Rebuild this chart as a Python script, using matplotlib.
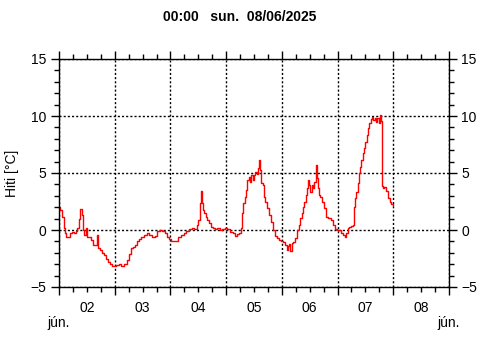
import numpy as np
import matplotlib.pyplot as plt
from matplotlib.ticker import MultipleLocator

plt.rcParams['font.family'] = ['Liberation Sans', 'DejaVu Sans']

# hours counted from 02 jún. 00:00, temperature in deg C
hours = [0, 1.1, 1.7, 2.3, 2.9, 3.4, 4.3, 5.1, 6.1, 6.9, 7.6, 8.3, 8.9, 9.4, 10.0, 10.6,
         11.1, 11.9, 12.6, 13.4, 14.3, 15.1, 16.0, 16.4, 16.8, 17.1, 18.0, 18.9, 19.7,
         20.6, 21.4, 22.3, 23.1,
         24, 25.1, 26.3, 27.4, 28.6, 29.7, 30.6, 31.4, 32.0, 33.1, 34.0, 34.8, 36.0,
         37.1, 38.3, 39.4, 40.6, 41.7, 42.9, 43.7, 44.9, 46.0, 46.9,
         48, 48.7, 49.8, 50.9, 52.0, 53.1, 54.3, 55.4, 56.6, 57.7, 58.9, 59.7, 60.3,
         60.9, 61.3, 61.7, 62.3, 62.9, 63.4, 64.0, 64.9, 65.7, 66.6, 67.4, 68.6, 69.7, 70.9,
         72, 73.1, 74.3, 75.4, 76.3, 77.1, 78.0, 78.6, 79.1, 79.7, 80.3, 80.9, 81.4, 82.0,
         82.6, 83.1, 83.7, 84.3, 84.9, 85.4, 86.0, 86.4, 86.9, 87.4, 88.0, 88.6, 89.1,
         90.0, 90.9, 91.7, 92.6, 93.4, 94.3, 95.1,
         96, 96.9, 97.7, 98.3, 98.9, 99.4, 100.0, 100.6, 101.4, 102.3, 103.1, 103.7,
         104.3, 104.9, 105.4, 106.0, 106.6, 107.1, 107.6, 108.0, 108.6, 109.1, 109.7,
         110.3, 110.9, 111.3, 111.7, 112.3, 112.9, 113.7, 114.6, 115.4, 116.6, 117.4,
         118.3, 119.1,
         120, 121.1, 122.0, 122.9, 123.4, 124.0, 124.6, 125.4, 126.3, 126.9, 127.3,
         127.7, 128.3, 128.9, 129.4, 130.0, 130.6, 131.1, 131.7, 132.3, 132.9, 133.4,
         134.0, 134.6, 135.1, 135.7, 136.3, 136.9, 137.4, 138.0, 138.6, 138.9, 139.1,
         139.7, 140.3, 141.1, 142.0, 142.9, 143.4, 144.0]
temps = [2.05, 1.75, 1.17, 0.15, -0.3, -0.58, -0.65, -0.3, -0.15, -0.3, -0.05, 0.15, 1.0,
         1.85, 1.3, 0.0, -0.45, 0.15, -0.6, -0.6, -0.9, -1.3, -1.3, -0.4, -1.4, -1.6,
         -1.75, -2.05, -2.2, -2.5, -2.8, -3.0, -3.2,
         -3.2, -3.1, -3.0, -3.2, -3.0, -2.63, -2.13, -1.6, -1.5, -1.3, -1.0, -0.8, -0.58,
         -0.4, -0.3, -0.45, -0.58, -0.5, -0.1, 0.0, -0.1, -0.3, -0.6,
         -0.8, -1.0, -1.0, -0.95, -0.65, -0.45, -0.25, -0.05, 0.05, 0.15, 0.05, 0.44, 0.88,
         2.35, 3.42, 2.35, 1.75, 1.46, 1.17, 0.88, 0.58, 0.29, 0.15, 0.05, 0.15, 0.0, 0.05,
         0.15, 0.1, -0.15, -0.3, -0.52, -0.35, -0.23, 0.15, 1.46, 2.34, 2.92, 3.5, 4.4,
         4.68, 4.24, 4.82, 4.4, 4.82, 5.1, 4.9, 5.4, 6.14, 5.26, 4.1, 3.95, 2.92, 2.49,
         1.9, 1.32, 0.73, 0.0, -0.52, -0.73, -0.88,
         -1.0, -1.08, -1.32, -1.75, -1.37, -1.26, -1.84, -1.17, -1.02, -0.73, 0.0, 0.44,
         1.02, 1.46, 2.05, 2.49, 3.07, 3.65, 4.39, 3.95, 3.36, 3.95, 3.65, 4.24, 5.7,
         4.53, 3.65, 3.07, 2.92, 2.49, 1.9, 1.17, 1.08, 0.88, 0.44, 0.1,
         0.0, 0.0, -0.3, -0.44, -0.58, -0.23, 0.15, 0.23, 0.35, 0.44, 2.05, 2.78, 3.36,
         4.1, 4.97, 5.56, 6.14, 6.73, 7.16, 7.75, 8.33, 8.92, 9.36, 9.71, 9.88, 9.65, 9.8,
         9.5, 9.8, 9.36, 10.1, 9.6, 3.9, 3.7, 3.75, 3.4, 2.8, 2.5, 2.3, 2.2]
day_labels = ['02', '03', '04', '05', '06', '07', '08']
month_label = 'jún.'
title = '00:00   sun.  08/06/2025'
ylabel = 'Hiti [°C]'

days = np.array(hours) / 24.0

fig = plt.figure(figsize=(4.8, 3.6), dpi=100)
ax = fig.add_axes([59/480, 73/360, 390/480, 228/360])

ax.plot(days, temps, color='red', lw=1, drawstyle='steps-mid')

ax.set_xlim(0, 7)
ax.set_ylim(-5, 15)
ax.xaxis.set_major_locator(MultipleLocator(1))
ax.xaxis.set_minor_locator(MultipleLocator(0.25))
ax.yaxis.set_major_locator(MultipleLocator(5))
ax.yaxis.set_minor_locator(MultipleLocator(1))
ax.set_xticklabels([])

ax.tick_params(which='both', direction='out', top=True, right=True,
               labelright=True, labelsize=10, color='black', width=1, pad=3)
ax.tick_params(which='major', length=6)
ax.tick_params(which='minor', length=3.5)
ax.grid(True, which='major', color='black', lw=1, linestyle=(0, (1.5, 1.5)))
for s in ax.spines.values():
    s.set_linewidth(1)

#day names under the middle of each day
for i, lab in enumerate(day_labels):
    ax.text(i + 0.5, -0.092, lab, transform=ax.get_xaxis_transform(),
            ha='center', va='center', fontsize=10)
ax.text(0, -0.158, month_label, transform=ax.get_xaxis_transform(),
        ha='center', va='center', fontsize=10)
ax.text(7, -0.158, month_label, transform=ax.get_xaxis_transform(),
        ha='center', va='center', fontsize=10)

fig.text(12/480, 1 - 173/360, ylabel, rotation=90, ha='center', va='center', fontsize=10)
fig.text(0.5, 1 - 17/360, title, ha='center', va='center', fontsize=10, fontweight='bold')

fig.savefig('out.png', dpi=100)
